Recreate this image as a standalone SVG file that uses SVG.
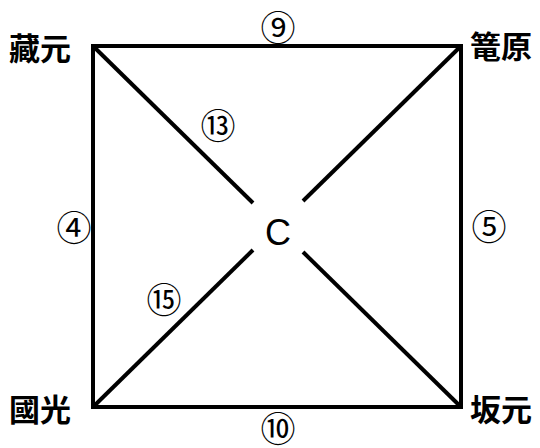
<svg xmlns="http://www.w3.org/2000/svg" width="540" height="448" viewBox="0 0 540 448">
<style>
.edge{stroke:#000;stroke-width:4;fill:none;stroke-linecap:square}
.diag{stroke:#000;stroke-width:4;fill:none;stroke-linecap:butt}
.lbl{font-family:"Noto Sans CJK JP","Noto Sans CJK SC",sans-serif;font-size:31px;fill:#000;font-weight:700}
.num{font-family:"Noto Sans CJK JP",sans-serif;font-size:35px;fill:#000;text-anchor:middle}
.c{font-family:"Liberation Sans",Arial,sans-serif;font-size:36px;fill:#000;text-anchor:middle}
</style>
<rect width="540" height="448" fill="#fff"/>
<g id="connectors">
<line class="edge" x1="93" y1="46" x2="461" y2="46"/>
<line class="edge" x1="93" y1="407" x2="461" y2="407"/>
<line class="edge" x1="93" y1="46" x2="93" y2="407"/>
<line class="edge" x1="461" y1="46" x2="461" y2="407"/>
<line class="diag" x1="93" y1="46" x2="253" y2="203"/>
<line class="diag" x1="303" y1="252" x2="461" y2="407"/>
<line class="diag" x1="461" y1="46" x2="303" y2="201"/>
<line class="diag" x1="253" y1="250" x2="93" y2="407"/>
<text class="num" x="278" y="41">⑨</text>
<text class="num" x="74" y="241">④</text>
<text class="num" x="489" y="240">⑤</text>
<text class="num" x="278" y="442">⑩</text>
<text class="num" x="218" y="139">⑬</text>
<text class="num" x="164" y="313">⑮</text>
</g>
<g id="node-kuramoto"><text class="lbl" x="9" y="60">藏元</text></g>
<g id="node-komorihara"><text class="lbl" x="470" y="58">篭原</text></g>
<g id="node-kokko"><text class="lbl" x="9" y="421">國光</text></g>
<g id="node-sakamoto"><text class="lbl" x="470" y="421">坂元</text></g>
<g id="node-c"><text class="c" x="278" y="245">C</text></g>
</svg>
